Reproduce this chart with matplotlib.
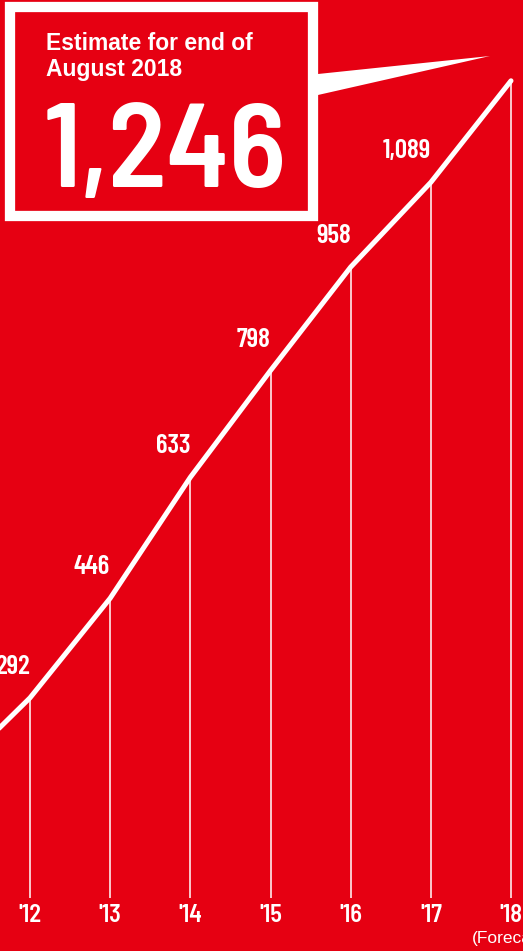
import matplotlib as mpl
mpl.use('Agg')
import matplotlib.pyplot as plt
from matplotlib.patches import Rectangle, Polygon
import matplotlib.transforms as mtransforms

# data (fiscal years, '11 sits just off the left edge)
years = ["'11", "'12", "'13", "'14", "'15", "'16", "'17", "'18"]
values = [170, 292, 446, 633, 798, 958, 1089, 1246]
labelled = [False, True, True, True, True, True, True, False]
headline = "1,246"
caption_lines = ["Estimate for end of", "August 2018"]
forecast_note = "(Forecast)"

RED = '#E60012'
W = 523
H = 951
narrow = ['Barlow Condensed', 'DejaVu Sans']
semi = ['Barlow Semi Condensed', 'DejaVu Sans']
plain = ['Liberation Sans', 'DejaVu Sans']

def fx(x):
    return x / W

def fy(y):
    return 1 - y / H

xs = list(range(-1, len(years) - 1))

fig = plt.figure(figsize=(W / 100, H / 100), dpi=100)
fig.patch.set_facecolor(RED)
ax = fig.add_axes([0, 0, 1, 1])
ax.set_facecolor(RED)
ax.axis('off')

# scale: '12 at px 30, '18 at px 511
step = (511 - 30) / 6.0
ax.set_xlim(-30 / step, 6 + 12 / step)
ax.set_ylim(-99.4, 1370.9)

# drop lines down to the year axis
y0, y1 = ax.get_ylim()
base = y0 + (H - 898) / H * (y1 - y0)
ax.vlines(xs, base, values, color='white', linewidth=1.1, zorder=1)

ax.plot(xs, values, color='white', linewidth=3.6, solid_capstyle='round',
        solid_joinstyle='miter', zorder=2)

for x, v, show in zip(xs, values, labelled):
    if show:
        ax.annotate(f'{v:,}', xy=(x, v), xytext=(0, 24), textcoords='offset pixels',
                    ha='right', va='baseline', color='white', fontsize=19.5,
                    fontweight='semibold', family=narrow)

blend = mtransforms.blended_transform_factory(ax.transData, ax.transAxes)
for x, lab in zip(xs, years):
    ax.text(x, fy(915), lab, transform=blend, ha='center', va='center',
            color='white', fontsize=17.5, fontweight='semibold', family=semi)
ax.text(xs[-1], fy(938), forecast_note, transform=blend, ha='center', va='center',
        color='white', fontsize=12.5, family=plain)

# headline box with callout
fig.patches.append(Rectangle((fx(10), fy(216)), fx(313) - fx(10), fy(7) - fy(216),
                             transform=fig.transFigure, fill=False, edgecolor='white',
                             linewidth=7.4, joinstyle='miter'))
fig.patches.append(Polygon([(fx(318), fy(74)), (fx(490), fy(56)), (fx(318), fy(95))],
                           transform=fig.transFigure, closed=True, facecolor='white',
                           edgecolor='none'))
for line, base_px in zip(caption_lines, [50, 76]):
    fig.text(fx(46), fy(base_px), line, ha='left', va='baseline', color='white',
             fontsize=16.5, fontweight='bold', family=plain)
fig.text(fx(44), fy(187), headline, ha='left', va='baseline', color='white',
         fontsize=86, fontweight='semibold', family=semi)

fig.savefig('out.png', dpi=100, facecolor=RED)
